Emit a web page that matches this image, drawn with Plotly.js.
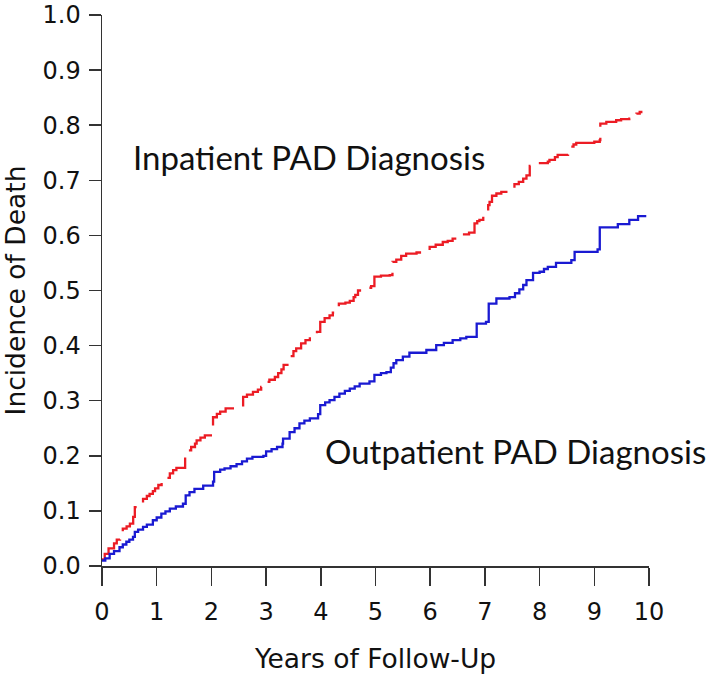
<!DOCTYPE html>
<html>
<head>
<meta charset="utf-8">
<script src="https://cdn.plot.ly/plotly-3.0.1.min.js"></script>
<style>
  html, body { margin: 0; padding: 0; background: #fff; }
  #chart { width: 709px; height: 678px; }
</style>
</head>
<body>
<div id="chart"></div>
<script>
// Inpatient PAD diagnosis (red, dashed step curve)
const inpatientYears = [0, 0.05, 0.12, 0.22, 0.27, 0.33, 0.38, 0.45, 0.51, 0.57, 0.60, 0.70, 0.75, 0.82, 0.87, 0.93, 0.97, 1.03, 1.09, 1.16, 1.24, 1.30, 1.36, 1.52, 1.58, 1.63, 1.70, 1.73, 1.80, 1.88, 2.03, 2.10, 2.16, 2.26, 2.58, 2.65, 2.76, 2.85, 2.91, 2.97, 3.06, 3.16, 3.22, 3.28, 3.32, 3.39, 3.42, 3.50, 3.55, 3.64, 3.72, 3.80, 3.88, 3.93, 3.99, 4.07, 4.16, 4.22, 4.28, 4.33, 4.45, 4.53, 4.60, 4.63, 4.68, 4.77, 4.92, 4.98, 5.10, 5.26, 5.31, 5.38, 5.47, 5.56, 5.75, 5.93, 5.99, 6.10, 6.23, 6.32, 6.41, 6.50, 6.54, 6.71, 6.81, 6.86, 6.90, 6.97, 7.02, 7.06, 7.085, 7.13, 7.21, 7.30, 7.51, 7.54, 7.62, 7.70, 7.76, 7.82, 7.94, 8.15, 8.18, 8.28, 8.33, 8.52, 8.55, 8.62, 8.67, 9.00, 9.10, 9.11, 9.22, 9.40, 9.49, 9.64, 9.70, 9.77, 9.83, 9.88];
const inpatientIncidence = [0.012, 0.022, 0.032, 0.041, 0.048, 0.055, 0.068, 0.072, 0.077, 0.089, 0.107, 0.115, 0.122, 0.127, 0.131, 0.136, 0.141, 0.147, 0.155, 0.160, 0.168, 0.174, 0.178, 0.204, 0.210, 0.216, 0.222, 0.228, 0.233, 0.237, 0.270, 0.276, 0.280, 0.286, 0.307, 0.311, 0.316, 0.320, 0.325, 0.334, 0.338, 0.343, 0.350, 0.357, 0.365, 0.373, 0.381, 0.390, 0.395, 0.404, 0.410, 0.416, 0.420, 0.425, 0.443, 0.450, 0.455, 0.460, 0.467, 0.476, 0.478, 0.481, 0.488, 0.492, 0.500, 0.505, 0.508, 0.525, 0.527, 0.528, 0.552, 0.556, 0.563, 0.567, 0.569, 0.572, 0.579, 0.583, 0.588, 0.590, 0.594, 0.598, 0.602, 0.605, 0.622, 0.626, 0.628, 0.635, 0.640, 0.655, 0.661, 0.672, 0.676, 0.679, 0.682, 0.693, 0.697, 0.703, 0.709, 0.726, 0.731, 0.734, 0.737, 0.742, 0.746, 0.749, 0.761, 0.765, 0.768, 0.770, 0.773, 0.803, 0.806, 0.809, 0.811, 0.812, 0.818, 0.821, 0.824, 0.824];

// Outpatient PAD diagnosis (blue, solid step curve)
const outpatientYears = [0, 0.06, 0.14, 0.22, 0.32, 0.38, 0.445, 0.50, 0.567, 0.60, 0.66, 0.75, 0.82, 0.93, 1.00, 1.085, 1.16, 1.24, 1.35, 1.48, 1.53, 1.60, 1.69, 1.85, 2.03, 2.05, 2.16, 2.24, 2.35, 2.46, 2.56, 2.65, 2.75, 2.95, 3.00, 3.10, 3.20, 3.30, 3.31, 3.43, 3.52, 3.61, 3.70, 3.80, 3.95, 3.99, 4.08, 4.16, 4.25, 4.34, 4.44, 4.53, 4.62, 4.71, 4.89, 4.98, 5.10, 5.20, 5.28, 5.33, 5.38, 5.50, 5.62, 5.93, 6.11, 6.25, 6.41, 6.55, 6.66, 6.85, 7.02, 7.07, 7.21, 7.45, 7.55, 7.63, 7.70, 7.76, 7.88, 8.00, 8.08, 8.15, 8.30, 8.58, 8.64, 9.06, 9.10, 9.43, 9.64, 9.80, 9.95];
const outpatientIncidence = [0.010, 0.014, 0.022, 0.027, 0.034, 0.039, 0.044, 0.048, 0.053, 0.062, 0.066, 0.071, 0.075, 0.083, 0.088, 0.095, 0.099, 0.104, 0.108, 0.113, 0.128, 0.134, 0.140, 0.146, 0.153, 0.171, 0.175, 0.177, 0.181, 0.185, 0.190, 0.195, 0.198, 0.200, 0.208, 0.212, 0.216, 0.222, 0.231, 0.243, 0.250, 0.259, 0.264, 0.268, 0.2755, 0.292, 0.297, 0.301, 0.307, 0.313, 0.318, 0.322, 0.326, 0.331, 0.335, 0.347, 0.350, 0.352, 0.360, 0.368, 0.3735, 0.380, 0.387, 0.392, 0.401, 0.405, 0.410, 0.413, 0.416, 0.440, 0.443, 0.476, 0.4855, 0.488, 0.495, 0.502, 0.510, 0.519, 0.532, 0.534, 0.539, 0.543, 0.550, 0.555, 0.570, 0.5745, 0.6145, 0.6205, 0.628, 0.635, 0.635];

const xTicks = [0, 1, 2, 3, 4, 5, 6, 7, 8, 9, 10];
const xTickLabels = ['0', '1', '2', '3', '4', '5', '6', '7', '8', '9', '10'];
const yTicks = [0, 0.1, 0.2, 0.3, 0.4, 0.5, 0.6, 0.7, 0.8, 0.9, 1.0];
const yTickLabels = ['0.0', '0.1', '0.2', '0.3', '0.4', '0.5', '0.6', '0.7', '0.8', '0.9', '1.0'];

const seriesLabels = ['Inpatient PAD Diagnosis', 'Outpatient PAD Diagnosis'];
const xTitle = 'Years of Follow-Up';
const yTitle = 'Incidence of Death';

const traces = [
  {
    x: inpatientYears, y: inpatientIncidence, type: 'scatter', mode: 'lines',
    name: seriesLabels[0],
    line: { shape: 'hv', color: '#ec1c24', width: 2.3, dash: '38px,11px' },
    hoverinfo: 'skip'
  },
  {
    x: outpatientYears, y: outpatientIncidence, type: 'scatter', mode: 'lines',
    name: seriesLabels[1],
    line: { shape: 'hv', color: '#1a1ad2', width: 2.3 },
    hoverinfo: 'skip'
  }
];

const axisFont = { family: 'DejaVu Sans, Verdana, sans-serif', size: 24, color: '#111' };
const titleFont = { family: 'DejaVu Sans, Verdana, sans-serif', size: 26.5, color: '#111' };

const layout = {
  width: 709, height: 678,
  margin: { l: 102, r: 60, t: 15, b: 112, pad: 0 },
  paper_bgcolor: '#fff', plot_bgcolor: '#fff',
  showlegend: false,
  xaxis: {
    range: [0, 10], tickmode: 'array', tickvals: xTicks, ticktext: xTickLabels,
    ticks: 'outside', ticklen: 18, tickwidth: 1.5, tickcolor: '#333',
    showline: true, linecolor: '#333', linewidth: 1.5,
    showgrid: false, zeroline: false, fixedrange: true,
    tickfont: axisFont, ticklabelstandoff: 6,
    title: { text: xTitle, font: titleFont, standoff: 24 }
  },
  yaxis: {
    range: [0, 1], tickmode: 'array', tickvals: yTicks, ticktext: yTickLabels,
    ticks: 'outside', ticklen: 12, tickwidth: 1.5, tickcolor: '#333',
    showline: true, linecolor: '#333', linewidth: 1.5,
    showgrid: false, zeroline: false, fixedrange: true,
    tickfont: axisFont, ticklabelstandoff: 3,
    title: { text: yTitle, font: titleFont, standoff: 11 }
  },
  annotations: [
    {
      x: 0.525, y: 0.742, xref: 'x', yref: 'y', xanchor: 'left', yanchor: 'middle',
      text: seriesLabels[0], showarrow: false,
      font: { family: 'Lato, sans-serif', size: 33, color: '#111' }
    },
    {
      x: 4.04, y: 0.208, xref: 'x', yref: 'y', xanchor: 'left', yanchor: 'middle',
      text: seriesLabels[1], showarrow: false,
      font: { family: 'Lato, sans-serif', size: 33, color: '#111' }
    }
  ]
};

Plotly.newPlot('chart', traces, layout, { staticPlot: true, displayModeBar: false });
</script>
</body>
</html>
